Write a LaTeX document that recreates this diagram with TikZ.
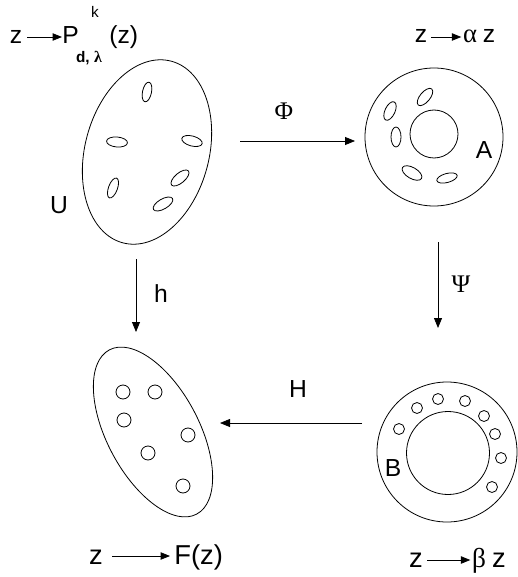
\documentclass[tikz,border=0pt]{standalone}
\usepackage{fontspec}
\setmainfont{Liberation Sans}
\newfontfamily\grk{Liberation Serif}
\usetikzlibrary{arrows.meta}
\begin{document}
\begin{tikzpicture}[x=0.75pt,y=-0.75pt,line width=0.6pt,
  arr/.style={-{Triangle[length=7.5pt,width=6pt]}},
  tarr/.style={-{Triangle[length=7pt,width=5.5pt]}},
  lbl/.style={font=\fontsize{18.5}{20}\selectfont,inner sep=0pt},
  glbl/.style={font=\grk\fontsize{19}{20}\selectfont,inner sep=0pt},
  toptxt/.style={font=\fontsize{18.5}{20}\selectfont,inner sep=0pt},
  bottxt/.style={font=\fontsize{20.5}{22}\selectfont,inner sep=0pt},
  smtxt/.style={font=\fontsize{11.5}{12}\selectfont,inner sep=0pt},
  smbtxt/.style={font=\bfseries\fontsize{11.5}{12}\selectfont,inner sep=0pt}]
\useasboundingbox (0,0) rectangle (517,577);

% ---------- U (top left) ----------
\coordinate (Uc) at (147,152);
\draw[rotate around={-15:(Uc)}] (Uc) ellipse [x radius=62, y radius=94];
\foreach \x/\y/\a/\rx/\ry in {147/92/-12/4.5/10, 117/142/-5/10.5/5, 192/141/-15/10.5/5,
    113/188/-20/4.5/10.5, 180/178/40/11/5, 163/204/30/11/5}
  \draw[rotate around={\a:(\x,\y)}] (\x,\y) ellipse [x radius=\rx, y radius=\ry];
\node[lbl] (U) at (59,205) {U};

% ---------- A (top right) ----------
\coordinate (Ac) at (434,137);
\draw (Ac) circle [radius=69];
\draw (434,134) circle [radius=24];
\foreach \x/\y/\a/\rx/\ry in {425/97/50/10.5/5, 390/111/65/10/5, 396/137/0/5/10,
    412/173/-30/11/5.5, 447/178/15/10.5/4.5}
  \draw[rotate around={\a:(\x,\y)}] (\x,\y) ellipse [x radius=\rx, y radius=\ry];
\node[lbl] (A) at (484,150) {A};

% ---------- B (bottom right) ----------
\coordinate (Bc) at (447,452);
\draw (Bc) circle [radius=70];
\draw (448,453) circle [radius=41.5];
\foreach \x/\y in {399/429, 417/408, 438/399, 465/401, 484/416, 495/434, 501/458, 492/487}
  \draw (\x,\y) circle [radius=5.5];
\node[lbl] (B) at (393,468) {B};

% ---------- F-domain (bottom left) ----------
\coordinate (Fc) at (153,432);
\draw[rotate around={28:(Fc)}] (Fc) ellipse [x radius=46, y radius=93];
\foreach \x/\y in {123/392, 155/392, 124/420, 188/435, 148/453, 183/486}
  \draw (\x,\y) circle [radius=7];

% ---------- main arrows ----------
\coordinate (phiS) at (240,141); \coordinate (phiE) at (355,141);
\draw[arr] (phiS) -- (phiE);
\node[glbl] (Phi) at (284,111) {Φ};
\coordinate (psiS) at (438,242); \coordinate (psiE) at (438,328);
\draw[arr] (psiS) -- (psiE);
\node[glbl] (Psi) at (461,284) {Ψ};
\coordinate (hS) at (136,259); \coordinate (hE) at (136,332);
\draw[arr] (hS) -- (hE);
\node[lbl] (h) at (161,294) {h};
\coordinate (HS) at (362,423); \coordinate (HE) at (220,423);
\draw[arr] (HS) -- (HE);
\node[lbl] (H) at (298,389) {H};

% ---------- formulas ----------
% top left: z -> P^k_{d,lambda}(z)
\node[toptxt,anchor=base] (tlz) at (16,44) {z};
\node[toptxt,anchor=base west] (tlP) at (62,44) {P};
\node[smtxt,anchor=base] (tlk) at (95,18) {k};
\node[smbtxt,anchor=base] (tldl) at (89,63) {d, {\grk\fontsize{12}{12}\selectfont λ}};
\node[toptxt,anchor=base west] (tlz2) at (109,44) {(z)};
\draw[tarr] (27,37) coordinate (tla) -- (tlP.west |- tla);

% top right: z -> alpha z
\node[toptxt,anchor=base] (trz) at (421,43) {z};
\node[font=\grk\fontsize{20}{20}\selectfont,inner sep=0pt,anchor=base] (tra) at (470,43) {α};
\node[toptxt,anchor=base] (trz2) at (489,43) {z};
\draw[tarr] (431,37) coordinate (trs) -- ([xshift=-1pt]tra.west |- trs);

% bottom left: z -> F(z)
\node[bottxt,anchor=base] (blz) at (96,564) {z};
\node[bottxt,anchor=base west] (blF) at (174,564) {F(z)};
\draw[tarr] (112,556) coordinate (bls) -- ([xshift=-3pt]blF.west |- bls);

% bottom right: z -> beta z
\node[bottxt,anchor=base] (brz) at (416,567) {z};
\node[font=\grk\fontsize{20.5}{22}\selectfont,inner sep=0pt,anchor=base] (brb) at (479,567) {β};
\node[bottxt,anchor=base] (brz2) at (499,567) {z};
\draw[tarr] (427,560) coordinate (brs) -- ([xshift=-1pt]brb.west |- brs);
\end{tikzpicture}
\end{document}
